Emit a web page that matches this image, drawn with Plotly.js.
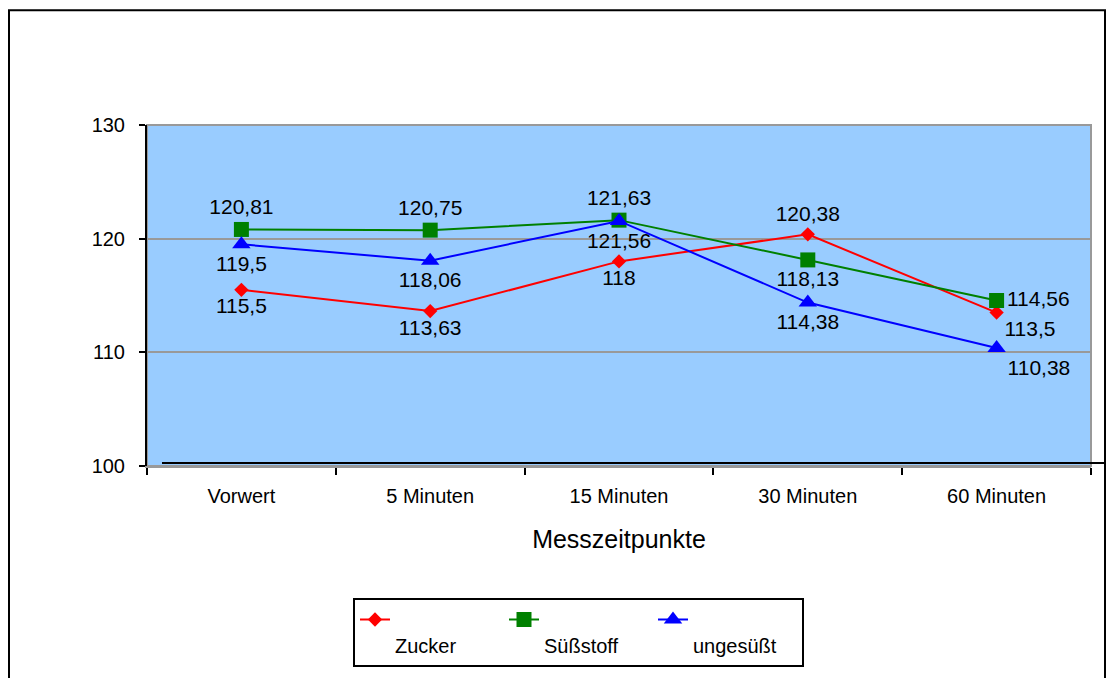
<!DOCTYPE html>
<html>
<head>
<meta charset="utf-8">
<script src="https://cdn.plot.ly/plotly-3.0.1.min.js"></script>
<style>html,body{margin:0;padding:0;background:#fff;}#chart{width:1106px;height:678px;}</style>
</head>
<body>
<div id="chart"></div>
<script>
const categories = ['Vorwert', '5 Minuten', '15 Minuten', '30 Minuten', '60 Minuten'];
const zucker = [115.5, 113.63, 118, 120.38, 113.5];
const suessstoff = [120.81, 120.75, 121.63, 118.13, 114.56];
const ungesuesst = [119.5, 118.06, 121.56, 114.38, 110.38];
const seriesNames = ['Zucker', 'Süßstoff', 'ungesüßt'];
const yTicks = [100, 110, 120, 130];

const fmt = v => String(v).replace('.', ',');
const font = 'Liberation Sans, Arial, sans-serif';

const traces = [
  {
    x: categories, y: zucker, name: '<br>' + seriesNames[0], type: 'scatter', mode: 'lines+markers+text',
    line: {color: '#FF0000', width: 2},
    marker: {symbol: 'diamond', size: 11, color: '#FF0000'},
    text: zucker.map(fmt),
    textposition: ['bottom center', 'bottom center', 'bottom center', 'top center', 'bottom right'],
    textfont: {family: font, size: 21, color: '#000'}
  },
  {
    x: categories, y: suessstoff, name: '<br>' + seriesNames[1], type: 'scatter', mode: 'lines+markers+text',
    line: {color: '#008000', width: 2},
    marker: {symbol: 'square', size: 15, color: '#008000'},
    text: suessstoff.map(fmt),
    textposition: ['top center', 'top center', 'top center', 'bottom center', 'middle right'],
    textfont: {family: font, size: 21, color: '#000'}
  },
  {
    x: categories, y: ungesuesst, name: '<br>' + seriesNames[2], type: 'scatter', mode: 'lines+markers+text',
    line: {color: '#0000FF', width: 2},
    marker: {symbol: 'triangle-up', size: 16, color: '#0000FF'},
    text: ungesuesst.map(fmt),
    textposition: ['bottom center', 'bottom center', 'bottom center', 'bottom center', 'bottom right'],
    textfont: {family: font, size: 21, color: '#000'}
  }
];

// pixel -> paper helpers (plot area: x 147..1091, y 125..467)
const L = 147, R = 1091, T = 125, B = 467;
const px = v => (v - L) / (R - L);
const py = v => (B - v) / (B - T);

const layout = {
  width: 1106, height: 678,
  margin: {l: L, r: 1106 - R, t: T, b: 678 - B, pad: 0},
  paper_bgcolor: '#FFFFFF',
  plot_bgcolor: '#99CCFF',
  font: {family: font, size: 20, color: '#000'},
  showlegend: true,
  xaxis: {
    type: 'category', range: [-0.5, 4.5],
    tickson: 'boundaries', ticks: 'outside', ticklen: 7, tickwidth: 2, tickcolor: '#000',
    showgrid: false, zeroline: false,
    showline: true, linecolor: '#999999', linewidth: 2,
    tickfont: {family: font, size: 20, color: '#000'},
    ticklabelstandoff: 11,
    title: {text: 'Messzeitpunkte', font: {family: font, size: 25, color: '#000'}, standoff: 24}
  },
  yaxis: {
    range: [100, 130], tickvals: yTicks, ticktext: yTicks.map(String),
    ticks: 'outside', ticklen: 6, tickwidth: 2, tickcolor: '#000',
    showgrid: true, gridcolor: '#999999', gridwidth: 2,
    zeroline: false, showline: true, linecolor: '#000', linewidth: 2,
    tickfont: {family: font, size: 20, color: '#000'},
    ticklabelstandoff: 10
  },
  legend: {
    orientation: 'h', x: px(353), y: py(598), xanchor: 'left', yanchor: 'top',
    bordercolor: '#000', borderwidth: 2, bgcolor: '#FFFFFF',
    font: {family: font, size: 20, color: '#000'},
    entrywidth: 104, entrywidthmode: 'pixels', valign: 'top'
  },
  shapes: [
    {type: 'rect', xref: 'paper', yref: 'paper', x0: 0, x1: 1, y0: 0, y1: 1,
     line: {color: '#999999', width: 2}, layer: 'below'},
    {type: 'line', xref: 'paper', yref: 'paper', x0: px(162), x1: px(1110), y0: py(464), y1: py(464),
     line: {color: '#000', width: 2}},
    {type: 'rect', xref: 'paper', yref: 'paper', x0: px(9), x1: px(1105), y0: py(10), y1: py(690),
     line: {color: '#000', width: 2}}
  ]
};

Plotly.newPlot('chart', traces, layout, {staticPlot: true, displayModeBar: false});
</script>
</body>
</html>
